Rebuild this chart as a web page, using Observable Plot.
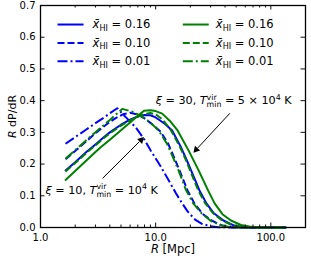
<!DOCTYPE html>
<html><head><meta charset="utf-8">
<script src="https://cdn.jsdelivr.net/npm/d3@7"></script>
<script src="https://cdn.jsdelivr.net/npm/@observablehq/plot@0.6"></script>
<style>body{margin:0;background:#fff}</style>
</head><body>
<script>
// ---- data: R [Mpc] and R dP/dR for each model ----
// xi=10, Tvir=1e4 K (blue)
const R_blue_016 = [1.65,2.0,2.5,3.0,3.5,4.0,5.0,6.0,7.0,8.0,9.0,10.0,12.0,13.9,16.5,18.5,20.3,24.0,27.6,32.0,38.8,48.0,59.0,70.0,135];
const Y_blue_016 = [0.180,0.206,0.238,0.262,0.283,0.300,0.324,0.340,0.350,0.355,0.354,0.347,0.327,0.306,0.255,0.215,0.180,0.117,0.076,0.045,0.022,0.006,0.001,0,0];
const R_blue_010 = [1.65,2.0,2.5,3.0,3.5,4.0,4.5,5.2,6.0,7.0,8.0,9.0,11.0,12.8,14.3,16.1,18.9,21.7,25.5,30.6,38.0,45.5,56.0,135];
const Y_blue_010 = [0.215,0.241,0.272,0.297,0.317,0.333,0.345,0.357,0.362,0.356,0.344,0.330,0.303,0.265,0.225,0.180,0.117,0.076,0.043,0.022,0.006,0.001,0,0];
const R_blue_001 = [1.65,2.0,2.5,3.0,3.5,4.0,4.64,5.5,6.7,7.86,9.05,11.0,13.0,15.0,17.0,19.0,22.0,25.0,30.0,35.0,45.0,135];
const Y_blue_001 = [0.264,0.285,0.309,0.329,0.345,0.360,0.376,0.348,0.316,0.281,0.243,0.194,0.148,0.108,0.076,0.050,0.025,0.012,0.004,0.001,0,0];
// xi=30, Tvir=5e4 K (green)
const R_green_016 = [1.65,2.0,2.5,3.0,3.33,4.0,5.0,6.0,7.0,7.93,9.0,10.0,11.4,13.3,15.5,19.5,23.6,28.5,32.5,38.0,45.0,55.0,65.0,80.0,135];
const Y_green_016 = [0.150,0.178,0.211,0.238,0.253,0.277,0.307,0.331,0.352,0.368,0.370,0.367,0.359,0.336,0.306,0.240,0.180,0.117,0.076,0.042,0.022,0.008,0.003,0,0];
const R_green_010 = [1.65,2.0,2.5,3.0,3.5,4.0,5.0,6.0,7.0,8.0,9.0,10.0,11.5,13.6,16.2,18.2,19.9,23.4,27.0,31.5,37.9,47.0,58.0,70.0,135];
const Y_green_010 = [0.177,0.203,0.235,0.259,0.280,0.297,0.321,0.338,0.350,0.358,0.361,0.357,0.340,0.306,0.255,0.215,0.180,0.117,0.076,0.045,0.022,0.006,0.001,0,0];
const R_green_001 = [1.65,2.0,2.5,3.0,3.5,4.0,4.5,5.13,6.45,8.0,9.05,10.6,12.5,14.0,15.8,18.4,21.2,25.0,29.8,37.0,44.0,55.0,135];
const Y_green_001 = [0.217,0.244,0.275,0.300,0.321,0.339,0.356,0.374,0.364,0.345,0.330,0.306,0.265,0.225,0.180,0.117,0.076,0.045,0.022,0.006,0.001,0,0];

const xTickLabels = [1, 10, 100];
const yTickLabels = [0, 0.1, 0.2, 0.3, 0.4, 0.5, 0.6, 0.7];
const xMinor = [2,3,4,5,6,7,8,9,20,30,40,50,60,70,80,90];
const legendLabels = ["x̄HI = 0.16", "x̄HI = 0.10", "x̄HI = 0.01"];
const annotation1 = "ξ = 30, Tminvir = 5 × 104 K";
const annotation2 = "ξ = 10, Tminvir = 104 K";

// ---- layout ----
const W = 311, H = 259, mL = 40, mR = 6, mT = 5, mB = 32;
const plotH = H - mT - mB, plotW = W - mL - mR;
const BLUE = "#0000ff", GREEN = "#008000";
const DASH = {solid: undefined, dashed: "7,3", dashdot: "10,3,2,3"};
const styles = ["solid", "dashed", "dashdot"];

const series = [
  {R: R_blue_016, Y: Y_blue_016, color: BLUE, style: "solid"},
  {R: R_blue_010, Y: Y_blue_010, color: BLUE, style: "dashed"},
  {R: R_blue_001, Y: Y_blue_001, color: BLUE, style: "dashdot"},
  {R: R_green_016, Y: Y_green_016, color: GREEN, style: "solid"},
  {R: R_green_010, Y: Y_green_010, color: GREEN, style: "dashed"},
  {R: R_green_001, Y: Y_green_001, color: GREEN, style: "dashdot"}
];

// legend placement (data space)
const legendRowY = [0.640, 0.582, 0.524];
const legendCols = [
  {color: BLUE, x1: 1.405, x2: 2.365, xt: 2.835},
  {color: GREEN, x1: 17.2, x2: 28.9, xt: 33.3}
];

// annotation arrows (tail -> head, data space)
const arrows = [
  {x1: 44.0, y1: 0.36, x2: 21.4, y2: 0.237},
  {x1: 3.46, y1: 0.155, x2: 7.86, y2: 0.284}
];

// scales for arrowhead orientation
const xs = Plot.scale({x: {type: "log", domain: [1, 200], range: [mL, W - mR]}});
const ys = Plot.scale({y: {type: "linear", domain: [0, 0.7], range: [H - mB, mT]}});
const heads = arrows.map(a => {
  const px1 = xs.apply(a.x1), py1 = ys.apply(a.y1), px2 = xs.apply(a.x2), py2 = ys.apply(a.y2);
  const th = Math.atan2(py2 - py1, px2 - px1);
  const back = 3.6;
  const cx = px2 - back * Math.cos(th), cy = py2 - back * Math.sin(th);
  const bx = px2 - 6 * Math.cos(th), by = py2 - 6 * Math.sin(th);
  return {x: xs.invert(cx), y: ys.invert(cy), rot: th * 180 / Math.PI + 90, lx: xs.invert(bx), ly: ys.invert(by), ...a};
});

const marks = [];
for (const s of series) {
  const pts = s.R.map((r, i) => ({R: r, y: s.Y[i]}));
  marks.push(Plot.line(pts, {x: "R", y: "y", stroke: s.color, strokeWidth: 2,
    strokeDasharray: DASH[s.style], strokeLinecap: s.style === "solid" ? "round" : "butt", strokeLinejoin: "round"}));
}
// legend
for (const c of legendCols) {
  styles.forEach((st, i) => {
    marks.push(Plot.link([0], {x1: () => c.x1, x2: () => c.x2, y1: () => legendRowY[i], y2: () => legendRowY[i],
      stroke: c.color, strokeWidth: 2, strokeDasharray: DASH[st], strokeLinecap: "butt"}));
  });
  marks.push(Plot.text(legendLabels, {x: () => c.xt, y: (d, i) => legendRowY[i], text: d => d,
    textAnchor: "start", fontSize: 11.5, fill: "black"}));
}
// annotations
marks.push(Plot.text([annotation1], {x: () => 10, y: () => 0.40, textAnchor: "start", lineAnchor: "middle", fontSize: 11.2}));
marks.push(Plot.text([annotation2], {x: () => 1.105, y: () => 0.117, textAnchor: "start", lineAnchor: "middle", fontSize: 11.2}));
marks.push(Plot.link(heads, {x1: "x1", y1: "y1", x2: "lx", y2: "ly", stroke: "black", strokeWidth: 1}));
marks.push(Plot.dot(heads, {x: "x", y: "y", symbol: "triangle", r: 2.6, fill: "black", stroke: "none", rotate: "rot"}));

// ticks (inward)
const xMaj = [10, 100], yMaj = [0.1, 0.2, 0.3, 0.4, 0.5, 0.6];
marks.push(Plot.tickX(xMaj, {x: d => d, insetTop: plotH - 4.5, stroke: "#111", strokeWidth: 1}));
marks.push(Plot.tickX(xMaj, {x: d => d, insetBottom: plotH - 4.5, stroke: "#111", strokeWidth: 1}));
marks.push(Plot.tickX(xMinor, {x: d => d, insetTop: plotH - 2.5, stroke: "#111", strokeWidth: 1}));
marks.push(Plot.tickX(xMinor, {x: d => d, insetBottom: plotH - 2.5, stroke: "#111", strokeWidth: 1}));
marks.push(Plot.tickY(yMaj, {y: d => d, insetRight: plotW - 4.5, stroke: "#111", strokeWidth: 1}));
marks.push(Plot.tickY(yMaj, {y: d => d, insetLeft: plotW - 4.5, stroke: "#111", strokeWidth: 1}));

marks.push(Plot.axisX({ticks: xTickLabels, tickFormat: d => d.toFixed(1), tickSize: 0, tickPadding: 6, label: null, fontSize: 10}));
marks.push(Plot.axisY({ticks: yTickLabels, tickFormat: d => d.toFixed(1), tickSize: 0, tickPadding: 5, label: null, fontSize: 10}));
marks.push(Plot.frame({stroke: "black", strokeWidth: 1.3}));
marks.push(Plot.text(["R dP/dR"], {frameAnchor: "left", dx: -28, rotate: -90, textAnchor: "middle", lineAnchor: "middle", fontSize: 11}));
marks.push(Plot.text(["R [Mpc]"], {frameAnchor: "bottom", dy: 22, textAnchor: "middle", lineAnchor: "middle", fontSize: 11.5}));

const chart = Plot.plot({
  width: W, height: H, marginLeft: mL, marginRight: mR, marginTop: mT, marginBottom: mB,
  style: {fontFamily: "DejaVu Sans", fontSize: "10px", background: "white", color: "black"},
  x: {type: "log", domain: [1, 200]},
  y: {domain: [0, 0.7]},
  marks
});
document.body.append(chart);

// ---- rich text (italic / sub / superscripts) ----
const NS = "http://www.w3.org/2000/svg";
const richMap = {
  "x̄HI = 0.16": [{t: "x̄", it: 1}, {t: "HI", pos: "sub"}, {t: " = 0.16"}],
  "x̄HI = 0.10": [{t: "x̄", it: 1}, {t: "HI", pos: "sub"}, {t: " = 0.10"}],
  "x̄HI = 0.01": [{t: "x̄", it: 1}, {t: "HI", pos: "sub"}, {t: " = 0.01"}],
  [annotation1]: [{t: "ξ", it: 1}, {t: " = 30, "}, {t: "T", it: 1}, {t: "min", pos: "sub"}, {t: "vir", pos: "sup", stack: 1},
                  {t: " = 5 × 10"}, {t: "4", pos: "sup"}, {t: " K"}],
  [annotation2]: [{t: "ξ", it: 1}, {t: " = 10, "}, {t: "T", it: 1}, {t: "min", pos: "sub"}, {t: "vir", pos: "sup", stack: 1},
                  {t: " = 10"}, {t: "4", pos: "sup"}, {t: " K"}],
  "R dP/dR": [{t: "R", it: 1}, {t: " dP/dR"}],
  "R [Mpc]": [{t: "R", it: 1}, {t: " [Mpc]"}]
};
function rich(el, segs) {
  const fs = parseFloat(getComputedStyle(el).fontSize) || 10;
  while (el.firstChild) el.removeChild(el.firstChild);
  let cur = 0, pending = 0, lastLen = 0;
  for (const s of segs) {
    const ts = document.createElementNS(NS, "tspan");
    ts.textContent = s.t;
    const target = s.pos === "sub" ? 0.25 * fs : s.pos === "sup" ? -0.42 * fs : 0;
    if (s.pos) ts.setAttribute("font-size", (0.7 * fs).toFixed(2));
    if (s.it) ts.setAttribute("font-style", "italic");
    if (target !== cur) ts.setAttribute("dy", (target - cur).toFixed(2));
    cur = target;
    let dx = pending;
    if (s.stack) dx -= lastLen;
    if (dx) ts.setAttribute("dx", dx.toFixed(2));
    el.appendChild(ts);
    const len = ts.getComputedTextLength();
    pending = s.stack ? Math.max(0, lastLen - len) : 0;
    lastLen = len;
  }
}
chart.querySelectorAll("text").forEach(el => {
  const k = el.textContent;
  if (richMap[k]) rich(el, richMap[k]);
});
</script>
</body></html>
